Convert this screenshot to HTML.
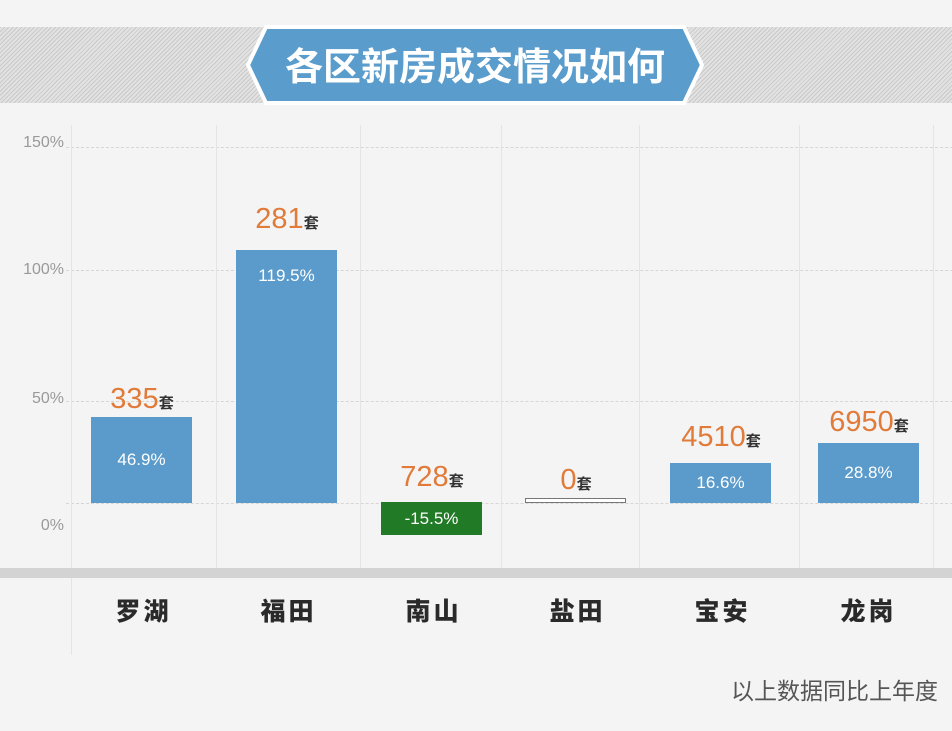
<!DOCTYPE html>
<html><head><meta charset="utf-8"><style>
*{margin:0;padding:0;box-sizing:border-box}
body{width:952px;height:731px;background:#f4f4f5;position:relative;overflow:hidden;font-family:"Liberation Sans","Noto Sans CJK SC",sans-serif}
.a{position:absolute}
.band{left:0;top:27px;width:952px;height:76px;background:repeating-linear-gradient(135deg,#c9c9c9 0 1px,#e2e2e2 1px 3px)}
.hg{left:0;width:952px;height:0;border-top:1px dashed #d6d6d6}
.vg{top:125px;width:1px;height:445px;background:#e4e4e4}
.yl{left:0;width:64px;text-align:right;font-size:16px;color:#999}
.bar{background:#5b9bcb;color:#fff;font-size:17px;text-align:center}
.num{color:#e07b39;font-size:29px;text-align:center;width:140px}
.num span{font-size:15px;color:#333;font-weight:bold}
.cat{font-size:25px;font-weight:900;color:#2a2a2a;text-align:center;width:101px;top:592px;letter-spacing:3px}
</style></head><body>
<div class="a band"></div>
<svg class="a" style="left:244px;top:24px" width="462" height="82">
<polygon points="22,3 440,3 458,41 440,79 22,79 4,41" fill="#5a9ccb" stroke="#fff" stroke-width="4"/>
<text x="231" y="56" text-anchor="middle" font-size="38" font-weight="bold" fill="#fff" font-family="Noto Sans CJK SC,sans-serif">各区新房成交情况如何</text>
</svg>
<div class="a hg" style="top:147px;left:66px"></div>
<div class="a hg" style="top:270px;left:66px"></div>
<div class="a hg" style="top:401px;left:66px"></div>
<div class="a hg" style="top:503px;left:66px"></div>
<div class="a vg" style="left:71px;height:530px"></div>
<div class="a vg" style="left:216px"></div>
<div class="a vg" style="left:360px"></div>
<div class="a vg" style="left:501px"></div>
<div class="a vg" style="left:639px"></div>
<div class="a vg" style="left:799px"></div>
<div class="a vg" style="left:933px"></div>
<div class="a yl" style="top:134px">150%</div>
<div class="a yl" style="top:261px">100%</div>
<div class="a yl" style="top:390px">50%</div>
<div class="a yl" style="top:517px">0%</div>
<div class="a" style="left:0;top:568px;width:952px;height:10px;background:#d3d3d3"></div>

<div class="a bar" style="left:91px;top:417px;width:101px;height:86px;line-height:86px">46.9%</div>
<div class="a bar" style="left:236px;top:250px;width:101px;height:253px;line-height:52px">119.5%</div>
<div class="a bar" style="left:381px;top:502px;width:101px;height:33px;line-height:33px;background:#217a26">-15.5%</div>
<div class="a" style="left:525px;top:498px;width:101px;height:5px;border:1px solid #777;background:#fff"></div>
<div class="a bar" style="left:670px;top:463px;width:101px;height:40px;line-height:40px">16.6%</div>
<div class="a bar" style="left:818px;top:443px;width:101px;height:60px;line-height:60px">28.8%</div>

<div class="a num" style="left:72px;top:383px">335<span>套</span></div>
<div class="a num" style="left:217px;top:203px">281<span>套</span></div>
<div class="a num" style="left:362px;top:461px">728<span>套</span></div>
<div class="a num" style="left:506px;top:464px">0<span>套</span></div>
<div class="a num" style="left:651px;top:421px">4510<span>套</span></div>
<div class="a num" style="left:799px;top:406px">6950<span>套</span></div>

<div class="a cat" style="left:93px">罗湖</div>
<div class="a cat" style="left:238px">福田</div>
<div class="a cat" style="left:383px">南山</div>
<div class="a cat" style="left:527px">盐田</div>
<div class="a cat" style="left:672px">宝安</div>
<div class="a cat" style="left:818px">龙岗</div>
<div class="a" style="right:14px;top:672px;font-size:23px;color:#555">以上数据同比上年度</div>
</body></html>
